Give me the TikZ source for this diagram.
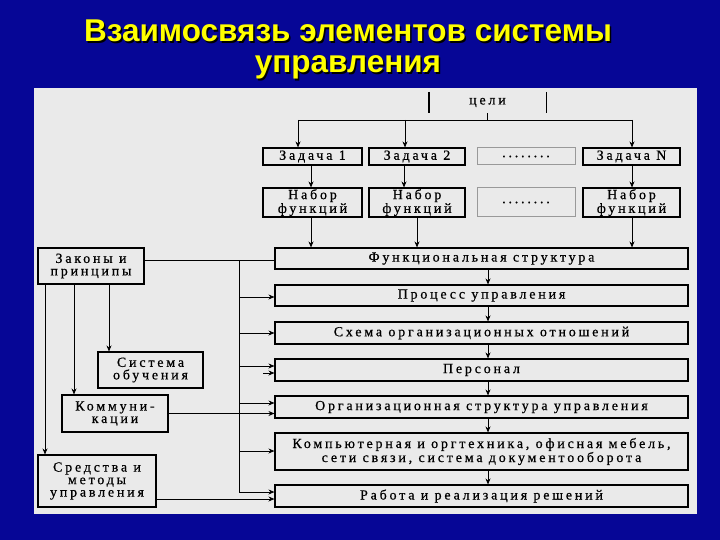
\documentclass[tikz,border=0pt]{standalone}
\usepackage{fontspec}
\setmainfont{Liberation Serif}
\newfontfamily\titlefont{Liberation Sans}
\newfontfamily\boxfont[LetterSpace=20,FakeBold=0.6]{Liberation Serif}
\usetikzlibrary{arrows.meta}
\definecolor{bg}{RGB}{6,6,150}
\definecolor{panel}{RGB}{234,234,234}
\definecolor{ttl}{RGB}{255,255,0}
\begin{document}
\begin{tikzpicture}[x=1pt,y=-1pt,
  box/.style={draw=black,line width=1.1pt,fill=panel,inner sep=0pt,align=center,
    font=\boxfont\fontsize{14}{12.5}\selectfont},
  dotbox/.style={box,draw=black!40,line width=1pt},
  arr/.style={-{Stealth[length=6pt,width=5pt]},line width=0.8pt},
  ln/.style={line width=0.8pt},
  ttlstyle/.style={font=\titlefont\bfseries\fontsize{31.5}{36}\selectfont,anchor=base}]
\useasboundingbox (0,0) rectangle (720,540);
\fill[bg] (0,0) rectangle (720,540);
\fill[panel] (34,88) rectangle (697,514);
% title
\node[ttlstyle,text=black] at (349.5,43.5) {Взаимосвязь элементов системы};
\node[ttlstyle,text=ttl] (t1) at (348,42) {Взаимосвязь элементов системы};
\node[ttlstyle,text=black] at (349.5,74.5) {управления};
\node[ttlstyle,text=ttl] (t2) at (348,73) {управления};
% goals
\node[inner sep=0pt,minimum width=117pt,minimum height=21pt,font=\boxfont\fontsize{14}{12.5}\selectfont] (goal) at (487.5,102.5) {цели};
\draw[line width=1.4pt] (goal.north west) -- (goal.south west);
\draw[line width=1.4pt] (goal.north east) -- (goal.south east);
% tasks
\node[box,minimum width=99pt,minimum height=17pt] (z1) at (312.5,156.5) {Задача 1};
\node[box,minimum width=96pt,minimum height=17pt] (z2) at (417,156.5) {Задача 2};
\node[dotbox,minimum width=98pt,minimum height=17pt] (z3) at (526,156.5) {........};
\node[box,minimum width=97pt,minimum height=17pt] (zN) at (631.5,156.5) {Задача N};
\node[box,minimum width=99pt,minimum height=29pt] (n1) at (312.5,202.5) {Набор\\функций};
\node[box,minimum width=96pt,minimum height=29pt] (n2) at (417,202.5) {Набор\\функций};
\node[dotbox,minimum width=98pt,minimum height=29pt] (n3) at (526,202.5) {........};
\node[box,minimum width=97pt,minimum height=29pt] (nN) at (631.5,202.5) {Набор\\функций};
% main column
\node[box,minimum width=413pt,minimum height=21pt] (f1) at (481.5,258.5) {Функциональная структура};
\node[box,minimum width=413pt,minimum height=21pt] (f2) at (481.5,295.5) {Процесс управления};
\node[box,minimum width=413pt,minimum height=22pt] (f3) at (481.5,333) {Схема организационных отношений};
\node[box,minimum width=413pt,minimum height=22pt] (f4) at (481.5,370) {Персонал};
\node[box,minimum width=413pt,minimum height=22pt] (f5) at (481.5,407) {Организационная структура управления};
\node[box,minimum width=413pt,minimum height=37pt] (f6) at (481.5,451.5) {Компьютерная и оргтехника, офисная мебель,\\сети связи, система документооборота};
\node[box,minimum width=413pt,minimum height=22pt] (f7) at (481.5,496) {Работа и реализация решений};
% left column
\node[box,minimum width=106pt,minimum height=36pt] (L1) at (91,266) {Законы и\\принципы};
\node[box,minimum width=105pt,minimum height=36pt] (L2) at (150.5,370) {Система\\обучения};
\node[box,minimum width=106pt,minimum height=37pt] (L3) at (115,413.5) {Комму­ни-\\кации};
\node[box,minimum width=118pt,minimum height=52pt] (L4) at (97,481) {Средства и\\методы\\управления};
% goal connectors
\coordinate (gc) at (487.5,120);
\coordinate (h1) at (298,120);
\coordinate (h2) at (405,120);
\coordinate (hN) at (632,120);
\draw[ln] (goal.south) -- (gc);
\draw[ln] (h1) -- (hN);
\draw[arr] (h1) -- (h1 |- z1.north);
\draw[arr] (h2) -- (h2 |- z2.north);
\draw[arr] (hN) -- (hN |- zN.north);
% tasks -> sets
\draw[arr] ([xshift=-1.5pt]z1.south) -- ([xshift=-1.5pt]n1.north);
\draw[arr] ([xshift=-13pt]z2.south) -- ([xshift=-13pt]n2.north);
\draw[arr] ([xshift=0.5pt]zN.south) -- ([xshift=0.5pt]nN.north);
% sets -> functional structure
\draw[arr] ([xshift=-1.5pt]n1.south) -- ([xshift=-1.5pt]n1.south |- f1.north);
\draw[arr] (n2.south) -- (n2.south |- f1.north);
\draw[arr] ([xshift=0.5pt]nN.south) -- ([xshift=0.5pt]nN.south |- f1.north);
% main chain
\foreach \a/\b in {f1/f2,f2/f3,f3/f4,f4/f5,f5/f6,f6/f7}
  \draw[arr] ([xshift=6.5pt]\a.south) -- ([xshift=6.5pt]\b.north);
% bus
\coordinate (bt) at (239,260);
\coordinate (bb) at (239,492);
\draw[ln] (L1.east |- bt) -- (f1.west |- bt);
\draw[ln] (bt) -- (bb);
\foreach \y/\t in {297/f2,333/f3,366/f4,403/f5,451/f6,492/f7}{
  \coordinate (by) at (239,\y);
  \draw[arr] (by) -- (by -| \t.west);
}
\coordinate (e4) at (263,373);
\draw[arr] (e4) -- (e4 -| f4.west);
% left verticals
\coordinate (v1) at (109,0);
\coordinate (v2) at (74,0);
\coordinate (v3) at (45,0);
\draw[arr] (L1.south -| v1) -- (L2.north -| v1);
\draw[arr] (L1.south -| v2) -- (L3.north -| v2);
\draw[arr] (L1.south -| v3) -- (L4.north -| v3);
% left to main
\draw[arr] (L3.east) -- (L3.east -| f5.west);
\coordinate (r7) at (0,499);
\draw[arr] (L4.east |- r7) -- (f7.west |- r7);
\end{tikzpicture}
\end{document}
